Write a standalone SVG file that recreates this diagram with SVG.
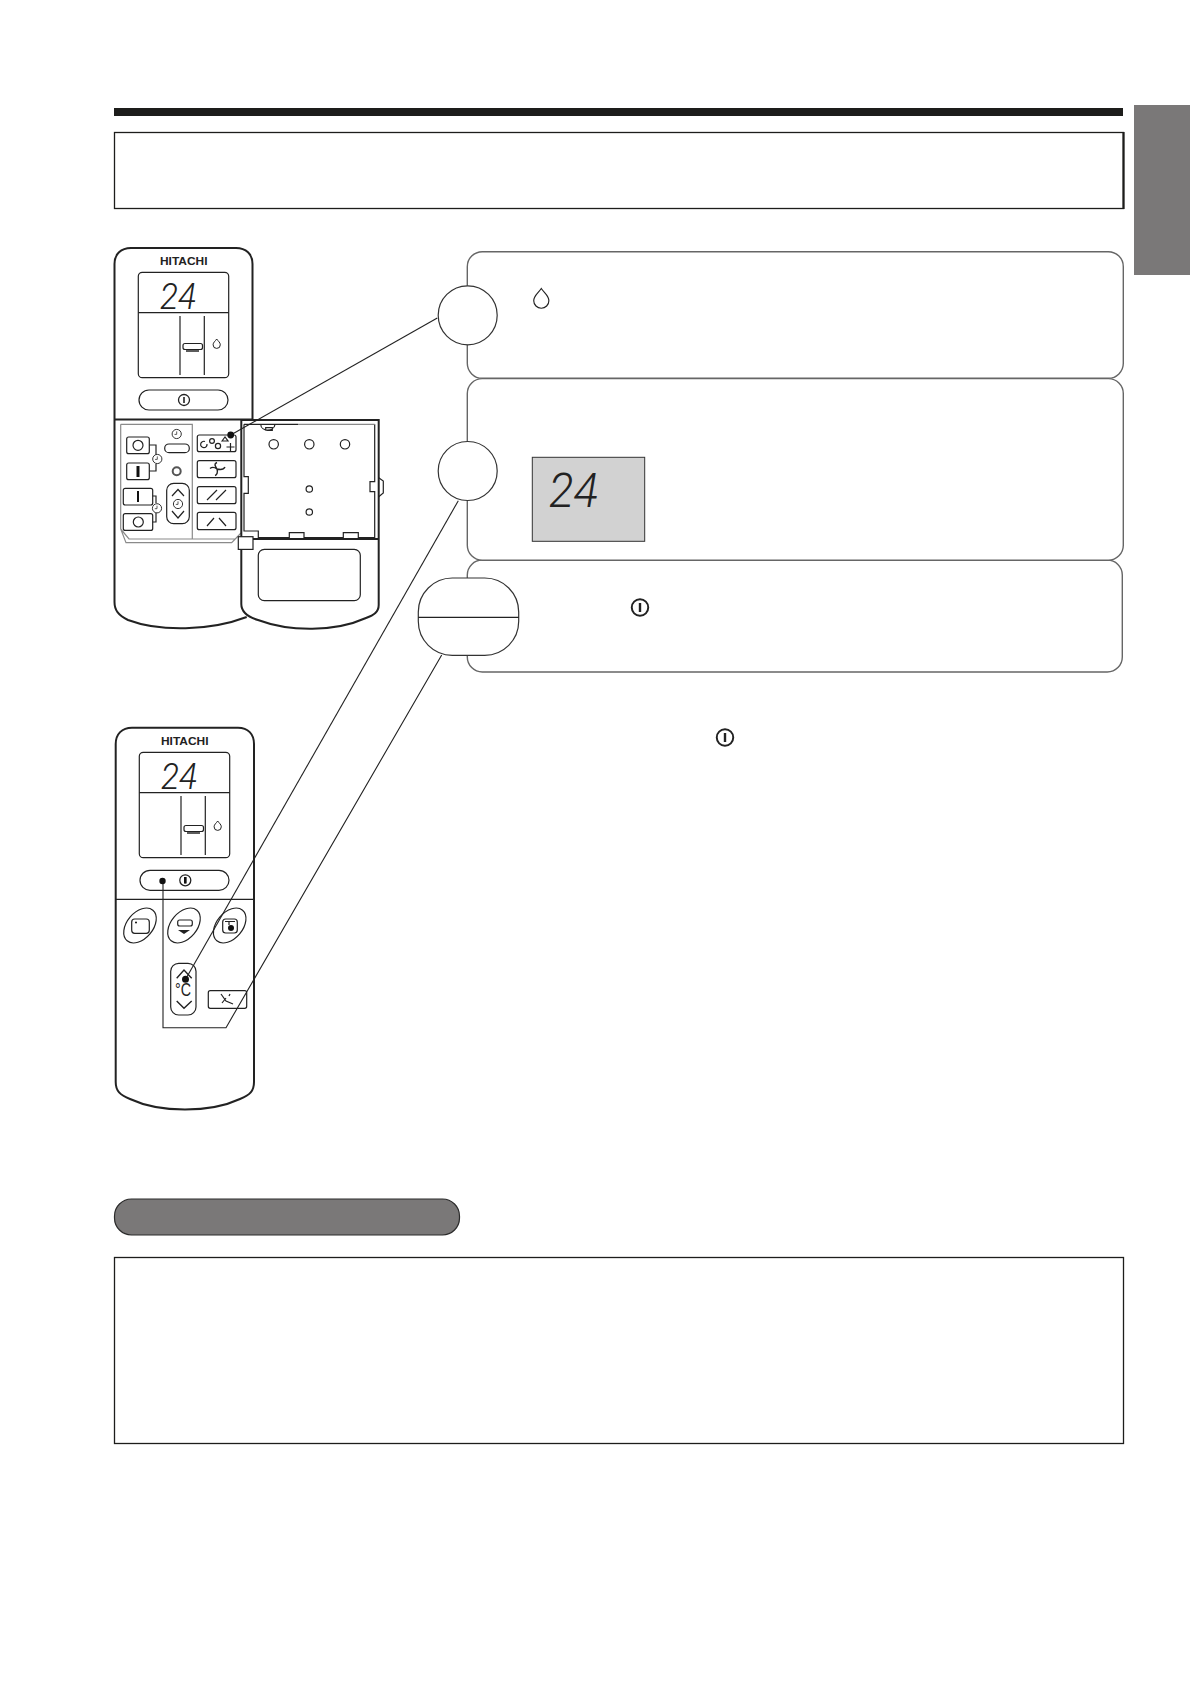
<svg xmlns="http://www.w3.org/2000/svg" width="1190" height="1684" viewBox="0 0 1190 1684">
<defs>
<style>
.o{fill:none;stroke:#222;stroke-width:2}
.t{fill:none;stroke:#222;stroke-width:1.2}
.w{fill:#fff;stroke:#222;stroke-width:1.2}
.g{fill:none;stroke:#8a8a8a;stroke-width:1.2}
.p{fill:#fff;stroke:#666;stroke-width:1.4}
.c{fill:#fff;stroke:#333;stroke-width:1.2}
.l{fill:none;stroke:#222;stroke-width:1.1}
.d{fill:#111}
.brand{font-family:"Liberation Sans",Arial,sans-serif;font-weight:700;font-size:10.5px;fill:#222}
.lcd{font-family:Roboto,"Liberation Sans",sans-serif;font-style:italic;font-weight:300;fill:#222}
</style>
<path id="drop" d="M0 -5 C1.4 -2.8 3.6 -1.6 3.6 0.8 A3.6 3.6 0 0 1 -3.6 0.8 C-3.6 -1.6 -1.4 -2.8 0 -5Z"/>
<g id="pw"><circle r="5.5" fill="#fff" stroke="#222" stroke-width="1.3"/><path d="M0 -3V3" stroke="#222" stroke-width="1.6"/></g>
<g id="clk"><circle r="4.6" fill="#fff" stroke="#333" stroke-width="1"/><path d="M0 -2.6V0.4H-2.2" fill="none" stroke="#333" stroke-width=".8"/></g>
</defs>
<rect width="1190" height="1684" fill="#fff"/>
<g id="page">
<rect x="114" y="108" width="1009" height="8" fill="#1d1d1b"/>
<rect x="114.5" y="132.5" width="1009" height="76" fill="#fff" stroke="#1d1d1b" stroke-width="1.3"/>
<path d="M1123.5 132V209" stroke="#1d1d1b" stroke-width="2.2"/>
<rect x="1134" y="105" width="56" height="170" fill="#7a7878"/>
<rect x="114.5" y="1199" width="345" height="36" rx="17" fill="#7a7878" stroke="#2a2a2a" stroke-width="1.2"/>
<rect x="114.5" y="1257.5" width="1009" height="186" fill="#fff" stroke="#1d1d1b" stroke-width="1.3"/>
</g>
<g id="panel-1"><rect class="p" x="467.3" y="251.7" width="656" height="126.6" rx="15"/></g>
<g id="panel-3"><rect class="p" x="467.3" y="560" width="655" height="112" rx="15"/></g>
<g id="panel-2"><rect class="p" x="467.3" y="378.6" width="656" height="181.6" rx="15"/>
<rect x="532.3" y="457.3" width="112.4" height="84" fill="#d2d2d2" stroke="#333" stroke-width="1"/>
<text class="lcd" x="549" y="506.5" font-size="48" textLength="49" lengthAdjust="spacingAndGlyphs">24</text></g>
<use href="#drop" fill="#fff" stroke="#222" stroke-width=".55" transform="translate(541.3 299) scale(2.1)"/>
<use href="#pw" transform="translate(640 607.5) scale(1.5)"/>
<use href="#pw" transform="translate(725 737.5) scale(1.5)"/>
<g id="step-1"><circle class="c" cx="467.7" cy="315.3" r="29.5"/></g>
<g id="step-2"><circle class="c" cx="467.7" cy="471" r="29.5"/></g>
<g id="step-3"><rect class="c" x="418.3" y="578" width="100.4" height="77.3" rx="34"/><path class="t" d="M418.3 617.3H518.7"/></g>

<g id="remote-open">
<path class="o" fill="#fff" d="M246.7 617 C210 631 160 632 128 620 C118 615 114.5 610 114.5 602 V264 C114.5 254 121 248 131 248 H236 C246 248 252.5 254 252.5 264 V419.5"/>
<path class="o" d="M114.5 419.5H252.5"/>
<text class="brand" x="160" y="265" textLength="47.5" lengthAdjust="spacingAndGlyphs">HITACHI</text>
<rect class="t" x="138.3" y="272.3" width="90.4" height="105.4" rx="4"/>
<path class="t" d="M138.3 312.7H228.7M180 316V375M204.3 316V375"/>
<text class="lcd" x="160" y="309" font-size="36" textLength="36" lengthAdjust="spacingAndGlyphs">24</text>
<rect class="t" x="183" y="343.5" width="19.5" height="6" rx="2"/><path d="M186 351H199" stroke="#333" stroke-width="1.6"/>
<use href="#drop" x="216.7" y="344" fill="#fff" stroke="#222" stroke-width="1"/>
<rect class="t" x="139" y="390" width="89" height="20" rx="10"/>
<use href="#pw" x="184" y="400"/>
<path class="g" d="M120.7 424.3H192.3V539M120.7 424.3V529L126 542.7H231.7L241 533M120.7 529L129 539H235"/>
<rect class="w" x="126.7" y="437" width="22.6" height="16.7" rx="2"/><circle class="t" cx="138" cy="445.3" r="5"/>
<rect class="w" x="126.7" y="463" width="22.6" height="16.7" rx="2"/><path d="M138 466V477" stroke="#111" stroke-width="3"/>
<rect class="w" x="123.3" y="488.3" width="29.4" height="16.7" rx="2"/><path d="M138 491V502" stroke="#111" stroke-width="2"/>
<rect class="w" x="123.3" y="513.7" width="29.4" height="16.7" rx="2"/><circle class="t" cx="138.3" cy="522" r="5"/>
<path class="t" d="M149.3 445H156V455M149.3 471H156V464M152.7 496H156V503M152.7 522H156V513"/>
<use href="#clk" x="157.3" y="459"/><use href="#clk" x="157" y="508.3"/><use href="#clk" x="176.7" y="434"/>
<rect class="t" x="164.7" y="444" width="24.6" height="8.7" rx="4.3"/>
<circle cx="176.7" cy="471.3" r="4" fill="#fff" stroke="#555" stroke-width="2"/>
<rect class="t" x="166.7" y="483.3" width="22.6" height="40.4" rx="7"/>
<path class="t" d="M172 496L178 489.5L184 496M172 511L178 518L184 511"/>
<use href="#clk" x="178" y="504"/>
<rect class="t" x="197.3" y="435" width="38.7" height="16.7" rx="2"/>
<path class="t" d="M205 441.5A3.2 3.2 0 1 0 207 444M230.5 443V451M226.5 447H234.5"/><circle class="t" cx="212" cy="441" r="2.4"/><circle class="t" cx="218" cy="446" r="2.6"/><path class="t" d="M222 441L225 437L228 441Z"/>
<rect class="t" x="197.3" y="460.7" width="38.7" height="17" rx="2"/>
<path d="M217 462.5C213 464 216 467 217 469C218 472 217 475 215 475.5M210 468.5C213 466 217 469 217 469C221 470 224 469 225 467" fill="none" stroke="#222" stroke-width="1.4"/>
<rect class="t" x="197.3" y="486.7" width="38.7" height="17" rx="2"/>
<path class="t" d="M207 500L217 490M216 500L226 490"/>
<rect class="t" x="197.3" y="512.3" width="38.7" height="17.4" rx="2"/>
<path class="t" d="M207 526L214 518M219 518L226 526"/>
<path class="o" d="M241.3 420H378.7V605 C378.7 612 374 615 366 618 C335 632 290 632 258 620 C248 617 241.3 612 241.3 604V420"/>
<path class="o" d="M253 539H378.7"/>
<path class="t" d="M244 424.3V476.7H248.3V493.3H244V531H258.3V537.7H289.3V532.7H304V537.7H343.3V532.7H358.3V537.7H374.7V491.7H370V481.7H374.7V424.3"/>
<path class="t" d="M244 424.3H298"/><path class="g" d="M298 424.3H374.7" stroke-width=".8"/>
<path class="t" d="M378.7 477.7L383.3 481V493L378.7 496.7"/>
<path class="t" d="M260.7 424.3C261 432 274 432 275 424.3M265.7 427.7H272.3V430.3H265.7Z"/>
<circle class="t" cx="273.7" cy="444.3" r="4.7"/><circle class="t" cx="309.3" cy="444.3" r="4.7"/><circle class="t" cx="345" cy="444.3" r="4.7"/>
<circle class="t" cx="309.3" cy="489" r="3.2"/><circle class="t" cx="309.3" cy="512" r="3.2"/>
<rect class="w" x="238.3" y="536.7" width="14.7" height="12.7"/>
<rect class="t" x="258.3" y="549.3" width="102" height="51.4" rx="6"/>
</g>

<g id="remote-closed">
<path class="o" d="M115.7 1082V744C115.7 734 122 727.7 132 727.7H238C248 727.7 254 734 254 744V1082C254 1091 250 1095 240 1099C210 1113 160 1113 130 1099C120 1095 115.7 1091 115.7 1082Z"/>
<path class="t" d="M115.7 899.3H254"/>
<text class="brand" x="161" y="745" textLength="47.5" lengthAdjust="spacingAndGlyphs">HITACHI</text>
<rect class="t" x="139.3" y="752.3" width="90.4" height="105.4" rx="4"/>
<path class="t" d="M139.3 792.7H229.7M181 796V855M205.3 796V855"/>
<text class="lcd" x="161" y="789" font-size="36" textLength="36" lengthAdjust="spacingAndGlyphs">24</text>
<rect class="t" x="184" y="825.5" width="19.5" height="6" rx="2"/><path d="M187 833H200" stroke="#333" stroke-width="1.6"/>
<use href="#drop" x="217.7" y="826" fill="#fff" stroke="#222" stroke-width="1"/>
<rect class="t" x="140" y="870.3" width="89" height="20" rx="10"/>
<use href="#pw" x="185.3" y="880.3"/>
<path d="M185.3 877V883.5" stroke="#111" stroke-width="2.6"/>
<ellipse class="t" cx="140" cy="925.5" rx="20" ry="13" transform="rotate(-50 140 925.5)"/>
<rect class="t" x="131.7" y="919" width="17.6" height="14.3" rx="3"/><path class="t" d="M135 922.5H137M136 921.5V923.5"/>
<ellipse class="t" cx="184" cy="925.5" rx="20" ry="13" transform="rotate(-50 184 925.5)"/>
<rect class="t" x="177.7" y="920" width="14.6" height="6" rx="2"/><path d="M178 930H190L184 934Z" fill="#222"/>
<ellipse class="t" cx="229.7" cy="925.5" rx="20" ry="13" transform="rotate(-50 229.7 925.5)"/>
<rect class="t" x="222.7" y="919" width="14.6" height="14" rx="3"/><path class="t" d="M225 921.5H235M229 921.5V925"/><circle class="d" cx="231" cy="928" r="3"/>
<rect class="t" x="170.7" y="963.3" width="25.3" height="51.7" rx="8"/>
<path d="M176.7 978.3L184 970L191.7 978.3M176.7 1001L184 1008.3L191.7 1001" fill="none" stroke="#222" stroke-width="1.4"/>
<text x="175" y="996" font-family="'Liberation Sans',Arial,sans-serif" font-size="18" fill="#222" textLength="16" lengthAdjust="spacingAndGlyphs">°C</text>
<rect class="t" x="208.3" y="990.7" width="38.4" height="17.6" rx="2"/>
<path class="t" d="M221 994L226 1001L233 1004M222 1003L226 998M229 996L230 994"/>
</g>

<g id="connectors">
<path class="l" d="M230.7 435L437.3 318"/>
<path class="l" d="M185.7 979L458.3 500.7"/>
<path class="l" d="M163 881V1027.7H226L441.7 655"/>
<circle class="d" cx="230.7" cy="435" r="3.4"/>
<circle class="d" cx="185.5" cy="979.3" r="3.5"/>
<circle class="d" cx="162.5" cy="881" r="3.2"/>
</g>
</svg>
